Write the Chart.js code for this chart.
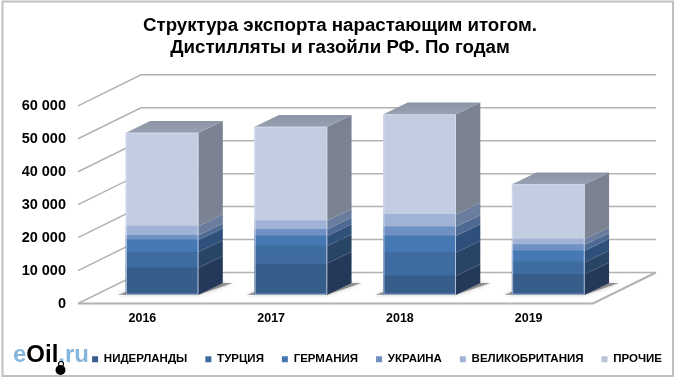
<!DOCTYPE html>
<html>
<head>
<meta charset="utf-8">
<style>
  body { margin: 0; background: #fff; }
  canvas { display: block; }
</style>
<script src="https://cdn.jsdelivr.net/npm/chart.js@4"></script>
</head>
<body>
<canvas id="export-chart" width="680" height="384"></canvas>
<script>
const titleLines = ['Структура экспорта нарастающим итогом.', 'Дистилляты и газойли РФ. По годам'];
const years = ['2016', '2017', '2018', '2019'];
const seriesNames = ['НИДЕРЛАНДЫ', 'ТУРЦИЯ', 'ГЕРМАНИЯ', 'УКРАИНА', 'ВЕЛИКОБРИТАНИЯ', 'ПРОЧИЕ'];

const netherlands = [8160, 9490, 5710, 6220];
const turkey = [4800, 5300, 7140, 3670];
const germany = [3670, 3060, 5000, 3470];
const ukraine = [1430, 2040, 2750, 1840];
const britain = [2750, 2650, 3770, 1730];
const others = [28360, 28470, 30400, 16630];
const seriesValues = [netherlands, turkey, germany, ukraine, britain, others];

const frontColors = ['#375d8a', '#3f6ca0', '#4679b4', '#7091c3', '#a0b3d6', '#c2cde1'];
const sideColors = ['#24395a', '#284565', '#2f507a', '#4e6a92', '#6b7d9e', '#7b8291'];
const legendColors = ['#375d8a', '#3f6ca0', '#4679b4', '#6f8fbf', '#a0b3d6', '#b9c3d6'];

// the box depth and the back wall offset, in pixels
const wallX = 63, wallY = -31;
const barX = 24.3, barY = -11.7;
const gridColor = '#b2b2b2';

function poly(ctx, points, fill) {
    ctx.beginPath();
    points.forEach((p, i) => i ? ctx.lineTo(p[0], p[1]) : ctx.moveTo(p[0], p[1]));
    ctx.closePath();
    ctx.fillStyle = fill;
    ctx.fill();
}

// frame, back wall and floor go under the bars, also the logo
const backdrop = {
    id: 'backdrop',
    beforeDatasetsDraw(chart) {
        const ctx = chart.ctx;
        const { left, right, bottom } = chart.chartArea;
        ctx.save();
        ctx.strokeStyle = '#c0c0c0';
        ctx.lineWidth = 2;
        ctx.strokeRect(2.5, 1.5, 670.5, 374.5);

        ctx.strokeStyle = gridColor;
        ctx.lineWidth = 1.5;
        const yScale = chart.scales.y;
        yScale.ticks.forEach((tick, i) => {
            const y = yScale.getPixelForTick(i);
            ctx.beginPath();
            ctx.moveTo(left, y);
            ctx.lineTo(left + wallX, y + wallY);
            ctx.lineTo(right + wallX, y + wallY);
            ctx.stroke();
        });
        ctx.lineWidth = 2;
        ctx.beginPath();
        ctx.moveTo(left, bottom);
        ctx.lineTo(right, bottom);
        ctx.lineTo(right + wallX, bottom + wallY);
        ctx.stroke();

        // soft shadow on the floor
        chart.getDatasetMeta(0).data.forEach(bar => {
            const l = bar.x - bar.width / 2, r = bar.x + bar.width / 2, b = bar.base;
            ctx.save();
            ctx.shadowColor = 'rgba(0,0,0,0.4)';
            ctx.shadowBlur = 4;
            poly(ctx, [[l - 8, b], [r, b], [r + barX + 10, b + barY], [l + barX, b + barY]], 'rgba(70,70,70,0.55)');
            ctx.restore();
        });
        drawLogo(ctx);
        ctx.restore();
    },
    afterDatasetsDraw(chart) {
        const ctx = chart.ctx;
        ctx.save();
        seriesValues.forEach((values, s) => {
            chart.getDatasetMeta(s).data.forEach(bar => {
                const r = bar.x + bar.width / 2;
                poly(ctx, [[r, bar.base], [r + barX, bar.base + barY], [r + barX, bar.y + barY], [r, bar.y]], sideColors[s]);
            });
        });
        // top face and light edge of each column
        const last = chart.getDatasetMeta(seriesValues.length - 1).data;
        last.forEach((bar, i) => {
            const l = bar.x - bar.width / 2, r = bar.x + bar.width / 2;
            const grad = ctx.createLinearGradient(0, bar.y + barY, 0, bar.y);
            grad.addColorStop(0, '#8b94a5');
            grad.addColorStop(1, '#98a1b2');
            poly(ctx, [[l, bar.y], [r, bar.y], [r + barX, bar.y + barY], [l + barX, bar.y + barY]], grad);
            const base = chart.getDatasetMeta(0).data[i].base;
            ctx.strokeStyle = 'rgba(214,222,240,0.75)';
            ctx.lineWidth = 1;
            ctx.strokeRect(l + 0.5, bar.y + 0.5, bar.width - 1, base - bar.y - 1);
        });
        ctx.restore();
    }
};

function drawLogo(ctx) {
    ctx.font = 'bold 24px "Liberation Sans"';
    ctx.textBaseline = 'alphabetic';
    ctx.textAlign = 'left';
    let x = 13;
    [['e', '#85b6de'], ['Oil', '#000'], ['.ru', '#85b6de']].forEach(part => {
        ctx.fillStyle = part[1];
        ctx.fillText(part[0], x, 362);
        x += ctx.measureText(part[0]).width;
    });
    ctx.fillStyle = '#000';
    ctx.beginPath();
    ctx.arc(60.5, 370, 5, 0, Math.PI * 2);
    ctx.fill();
    ctx.strokeStyle = '#000';
    ctx.lineWidth = 1.2;
    ctx.beginPath();
    ctx.arc(61, 364, 2.5, 0, Math.PI * 2);
    ctx.stroke();
}

new Chart(document.querySelector('#export-chart').getContext('2d'), {
    type: 'bar',
    plugins: [backdrop],
    data: {
        labels: years,
        datasets: seriesNames.map((name, s) => ({
            label: name,
            data: seriesValues[s].map((v, i) => ({ x: i, y: v })),
            backgroundColor: frontColors[s],
            borderWidth: 0,
            xAxisID: 'xBars',
            yAxisID: 'yBars',
            barThickness: 72.6
        }))
    },
    options: {
        responsive: false,
        animation: false,
        layout: { padding: { bottom: 9 } },
        plugins: {
            tooltip: { enabled: false },
            title: {
                display: true,
                text: titleLines,
                color: '#000',
                font: { family: '"Liberation Sans"', size: 18.7, weight: 'bold', lineHeight: 1.18 },
                padding: { top: 14.5, bottom: 47.2 }
            },
            legend: {
                position: 'bottom',
                align: 'end',
                labels: {
                    color: '#000',
                    font: { family: '"Liberation Sans"', size: 11.5, weight: 'bold' },
                    boxWidth: 6,
                    boxHeight: 6,
                    padding: 18,
                    generateLabels: chart => seriesNames.map((name, s) => ({
                        text: name,
                        fillStyle: legendColors[s],
                        strokeStyle: legendColors[s],
                        lineWidth: 0,
                        datasetIndex: s
                    }))
                }
            }
        },
        scales: {
            x: {
                type: 'category',
                offset: true,
                grid: { display: false, drawTicks: false },
                border: { display: false },
                ticks: { color: '#000', padding: 8, font: { family: '"Liberation Sans"', size: 12.5, weight: 'bold' } },
                afterFit(scale) { scale.height = 32; }
            },
            y: {
                position: 'left',
                min: 0,
                max: 60000,
                grid: { display: false, drawTicks: false },
                border: { display: false },
                ticks: {
                    stepSize: 10000,
                    color: '#000',
                    padding: 12,
                    font: { family: '"Liberation Sans"', size: 14.5, weight: 'bold' },
                    callback: value => String(value).replace(/(\d)(?=\d{3}$)/, '$1 ')
                },
                afterFit(scale) { scale.width = 78; }
            },
            // hidden scales: the columns stand further back on the floor than the axis labels
            xBars: {
                type: 'linear',
                axis: 'x',
                display: false,
                offset: false,
                stacked: true,
                min: -0.654,
                max: 3.346
            },
            yBars: {
                type: 'linear',
                position: 'right',
                stacked: true,
                min: -2660,
                max: 57340,
                grid: { display: false, drawTicks: false },
                border: { display: false },
                ticks: { display: false },
                afterFit(scale) { scale.width = 87; }
            }
        }
    }
});
</script>
</body>
</html>
